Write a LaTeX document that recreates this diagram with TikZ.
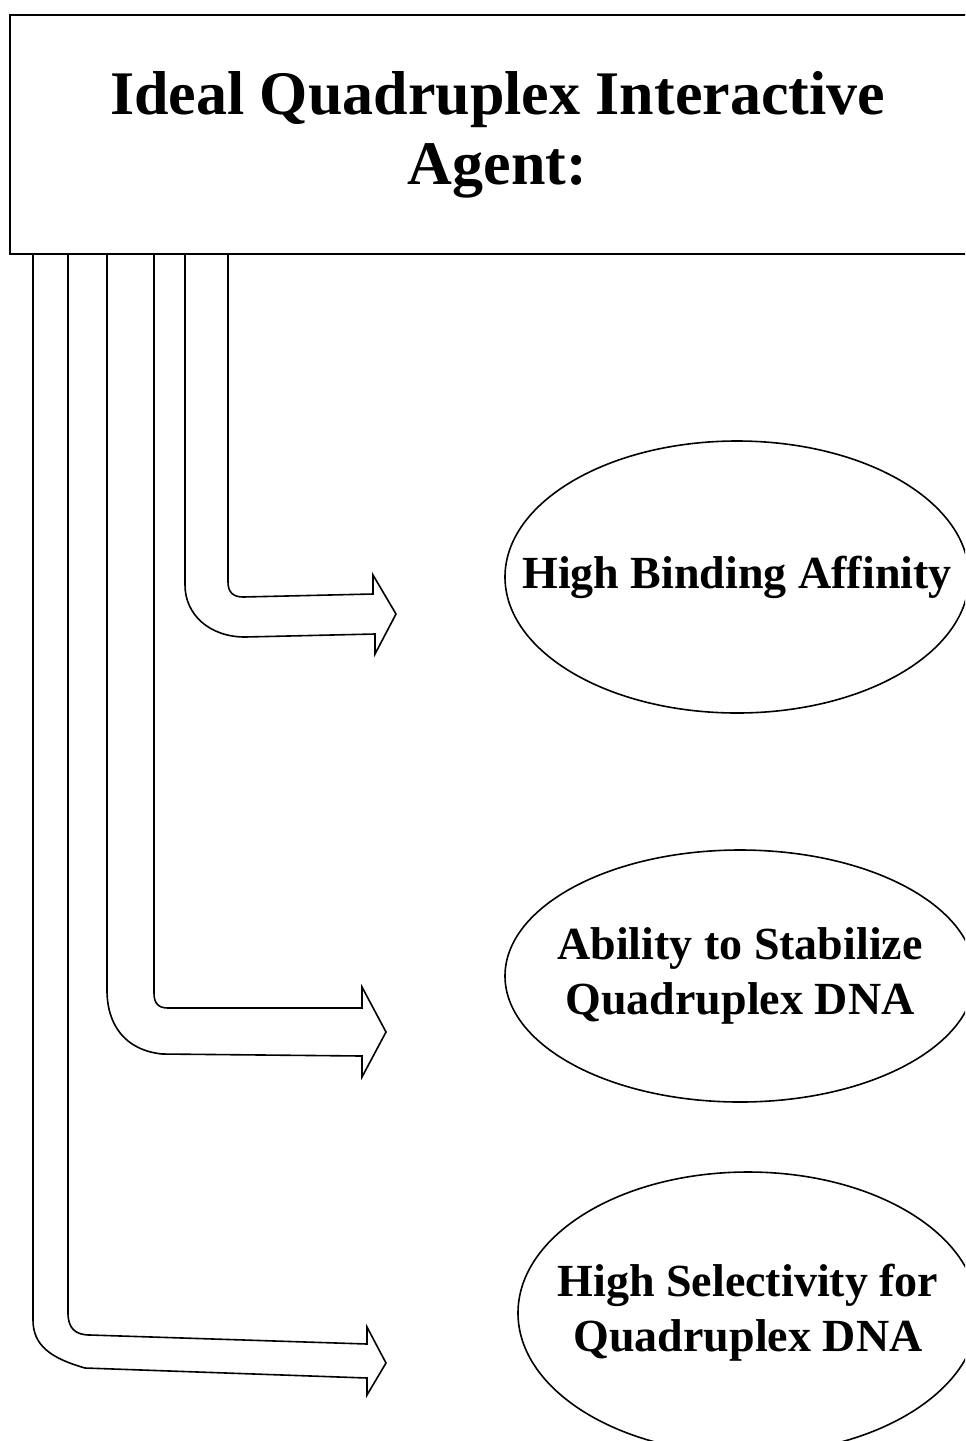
\documentclass[tikz,border=0pt]{standalone}
\usepackage{fontspec}
\setmainfont{Liberation Serif}
\usepackage{tikz}
\usetikzlibrary{positioning}
\usetikzlibrary{shapes.geometric}
\newcommand{\goaltext}[1]{\makebox[0pt]{\begin{tabular}{@{}c@{}}#1\end{tabular}}}

\begin{document}
\begin{tikzpicture}[x=0.5pt, y=-0.5pt, line width=0.8pt,
	goal/.style={draw, ellipse, inner sep=0pt, font=\fontsize{23}{27.5}\selectfont\bfseries},
	fatarrow/.style={draw, line join=miter}]
			    		\useasboundingbox (0,0) rectangle (965,1441);
			    		\clip (0,0) rectangle (965,1441);
			    		\node[draw, minimum width=487.5pt, minimum height=119.5pt, align=center, font=\fontsize{31}{35}\selectfont\bfseries] (agent) at (497.5,134.5) {Ideal Quadruplex Interactive\\Agent:};
			    		\node[goal, minimum width=232pt, minimum height=136pt] (affinity) at (737,577) {\goaltext{High Binding Affinity}};
			    		\node[goal, minimum width=235pt, minimum height=126pt] (stabilize) at (740,976) {\goaltext{Ability to Stabilize\\Quadruplex DNA}};
			    		\node[goal, minimum width=230pt, minimum height=141pt] (selectivity) at (748,1313) {\goaltext{High Selectivity for\\Quadruplex DNA}};
						\draw[fatarrow] (228,0 |- agent.south) -- (228,582) .. controls (228,592) and (233,597) .. (243,597) -- (373,594) -- (373,575) -- (396,614) -- (375,654) -- (375,634) -- (245,637) .. controls (210,637) and (185,615) .. (185,585) -- (185,0 |- agent.south);
						\draw[fatarrow] (154,0 |- agent.south) -- (154,993) .. controls (154,1003) and (158,1008) .. (168,1008) -- (362,1008) -- (362,987) -- (386,1032) -- (362,1077) -- (362,1056) -- (162,1054) .. controls (125,1050) and (107,1025) .. (107,990) -- (107,0 |- agent.south);
						\draw[fatarrow] (68,0 |- agent.south) -- (68,1313) .. controls (68,1328) and (75,1335) .. (90,1335) -- (367,1344) -- (367,1327) -- (386,1363) -- (367,1395) -- (367,1378) -- (85,1368) .. controls (50,1358) and (33,1345) .. (33,1320) -- (33,0 |- agent.south);
			    	\end{tikzpicture}
\end{document}
